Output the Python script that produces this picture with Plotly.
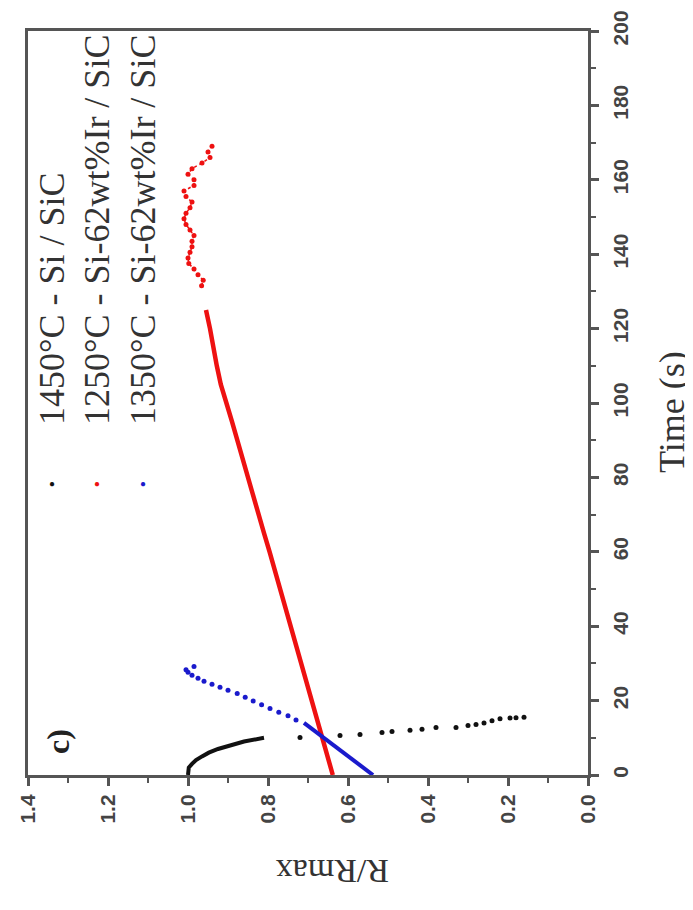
import plotly.graph_objects as go

# ---------------- data ----------------
# 1250°C - Si-62wt%Ir / SiC (red)
red_line_t = [0, 5, 10, 15, 20, 25, 30, 35, 40, 45, 50, 55, 60, 65, 70, 75, 80, 85, 90, 95, 100, 105, 110, 115, 120, 125]
red_line_r = [0.638, 0.651, 0.664, 0.677, 0.690, 0.703, 0.716, 0.730, 0.744, 0.757, 0.770, 0.783, 0.796, 0.810, 0.823, 0.836, 0.849, 0.862, 0.876, 0.890, 0.904, 0.918, 0.928, 0.936, 0.945, 0.955]
red_dot_t = [131.5, 133, 134.5, 136, 137.5, 139, 140.5, 142, 143.5, 145, 146.5, 148, 149.5, 151, 152.5, 154, 155.5, 157, 158.5, 160, 161.5, 163, 164.5, 166, 167.5, 169]
red_dot_r = [0.966, 0.962, 0.975, 0.985, 0.998, 1.0, 0.995, 0.99, 0.99, 0.985, 0.995, 1.005, 1.01, 1.005, 0.995, 0.99, 1.005, 1.01, 0.985, 0.985, 1.0, 0.99, 0.965, 0.945, 0.95, 0.94]

# 1350°C - Si-62wt%Ir / SiC (blue)
blue_line_t = [0, 2, 4, 6, 8, 10, 12, 14]
blue_line_r = [0.5375, 0.562, 0.587, 0.611, 0.636, 0.660, 0.685, 0.710]
blue_dot_t = [14.8, 15.9, 16.9, 17.9, 18.9, 19.9, 20.9, 21.9, 22.8, 23.6, 24.4, 25.2, 26.0, 26.8, 27.6, 28.3, 29.2]
blue_dot_r = [0.73, 0.75, 0.773, 0.795, 0.816, 0.837, 0.857, 0.877, 0.90, 0.92, 0.94, 0.96, 0.975, 0.99, 1.0, 1.005, 0.985]

# 1450°C - Si / SiC (black)
black_line_t = [0, 1, 2, 3, 4, 5, 6, 7, 8, 9, 10]
black_line_r = [1.0, 1.0, 0.998, 0.99, 0.98, 0.965, 0.948, 0.925, 0.895, 0.86, 0.81]
black_dot_t = [10.1, 10.6, 10.9, 11.4, 11.7, 12.0, 12.3, 12.8, 12.8, 13.3, 13.6, 14.0, 14.6, 15.1, 15.3, 15.4, 15.5]
black_dot_r = [0.72, 0.62, 0.57, 0.515, 0.49, 0.445, 0.415, 0.38, 0.33, 0.30, 0.28, 0.26, 0.24, 0.22, 0.195, 0.18, 0.16]

legend_labels = ["1450°C - Si / SiC", "1250°C - Si-62wt%Ir / SiC", "1350°C - Si-62wt%Ir / SiC"]
legend_colors = ["#111111", "#ee1111", "#1a1acc"]

x_ticks = [0.0, 0.2, 0.4, 0.6, 0.8, 1.0, 1.2, 1.4]
y_ticks = [0, 20, 40, 60, 80, 100, 120, 140, 160, 180, 200]

RED, BLUE, BLACK = legend_colors[1], legend_colors[2], legend_colors[0]

fig = go.Figure()
# the figure is shown rotated 90° CCW: R/Rmax runs along x (reversed), time along y
fig.add_trace(go.Scatter(x=red_line_r, y=red_line_t, mode="lines",
                         line=dict(color=RED, width=4.5), showlegend=False))
fig.add_trace(go.Scatter(x=red_dot_r, y=red_dot_t, mode="lines+markers",
                         line=dict(color=RED, width=1.5, dash="dot"),
                         marker=dict(color=RED, size=5), showlegend=False))
fig.add_trace(go.Scatter(x=blue_line_r, y=blue_line_t, mode="lines",
                         line=dict(color=BLUE, width=4), showlegend=False))
fig.add_trace(go.Scatter(x=blue_dot_r, y=blue_dot_t, mode="markers",
                         marker=dict(color=BLUE, size=5), showlegend=False))
fig.add_trace(go.Scatter(x=black_line_r, y=black_line_t, mode="lines",
                         line=dict(color=BLACK, width=4), showlegend=False))
fig.add_trace(go.Scatter(x=black_dot_r, y=black_dot_t, mode="markers",
                         marker=dict(color=BLACK, size=5), showlegend=False))

axis_col = "#555555"
tick_font = dict(family="Liberation Sans, Arial, sans-serif", size=21, color="#444444", weight="bold")

fig.update_xaxes(range=[1.4, 0.0], tickvals=x_ticks, ticktext=[f"{v:.1f}" for v in x_ticks],
                 tickangle=-90, ticks="outside", ticklen=8, tickwidth=2.5, tickcolor=axis_col,
                 minor=dict(dtick=0.1, ticks="outside", ticklen=5, tickwidth=2, tickcolor=axis_col),
                 showline=True, linecolor=axis_col, linewidth=3, mirror=True,
                 showgrid=False, zeroline=False, tickfont=tick_font, ticklabeloverflow="allow")
fig.update_yaxes(range=[0, 200], tickvals=y_ticks, side="right",
                 tickangle=-90, ticks="outside", ticklen=8, tickwidth=2.5, tickcolor=axis_col,
                 minor=dict(dtick=10, ticks="outside", ticklen=5, tickwidth=2, tickcolor=axis_col),
                 showline=True, linecolor=axis_col, linewidth=3, mirror=True,
                 showgrid=False, zeroline=False, tickfont=tick_font, ticklabeloverflow="allow",
                 ticklabelstandoff=4)

# page has an 8 px body margin; plot area in screen pixels: x 28..588, y 31..775
OFF = 8
W, H = 693 - OFF, 910 - OFF
L, R_, T, B = 28, 588, 31, 775
def xp(px):
    return (px - L) / (R_ - L)
def yp(py):
    return (B - py) / (B - T)

serif = "Liberation Serif, Times New Roman, serif"
ann = []
cols = [52, 97, 143]
for lab, col, cx in zip(legend_labels, legend_colors, cols):
    ann.append(dict(x=xp(cx), y=yp(427), xref="paper", yref="paper", text=lab,
                    textangle=-90, showarrow=False, xanchor="center", yanchor="bottom",
                    font=dict(family=serif, size=36, color="#333333")))
    ann.append(dict(x=xp(cx), y=yp(483), xref="paper", yref="paper", text="●",
                    showarrow=False, xanchor="center", yanchor="middle",
                    font=dict(size=10, color=col)))
ann.append(dict(x=xp(58), y=yp(742), xref="paper", yref="paper", text="<b>c)</b>",
                textangle=-90, showarrow=False, xanchor="center", yanchor="middle",
                font=dict(family=serif, size=32, color="#222222")))
ann.append(dict(x=xp(333), y=yp(871), xref="paper", yref="paper", text="R/Rmax",
                textangle=180, showarrow=False, xanchor="center", yanchor="middle",
                font=dict(family=serif, size=34, color="#333333")))
ann.append(dict(x=xp(672), y=yp(412), xref="paper", yref="paper", text="Time (s)",
                textangle=-90, showarrow=False, xanchor="center", yanchor="middle",
                font=dict(family=serif, size=36, color="#333333")))

fig.update_layout(width=W, height=H,
                  margin=dict(l=L - OFF, r=W - (R_ - OFF), t=T - OFF, b=H - (B - OFF), autoexpand=False),
                  paper_bgcolor="white", plot_bgcolor="white",
                  annotations=ann, showlegend=False)

fig.write_html("out.html")
